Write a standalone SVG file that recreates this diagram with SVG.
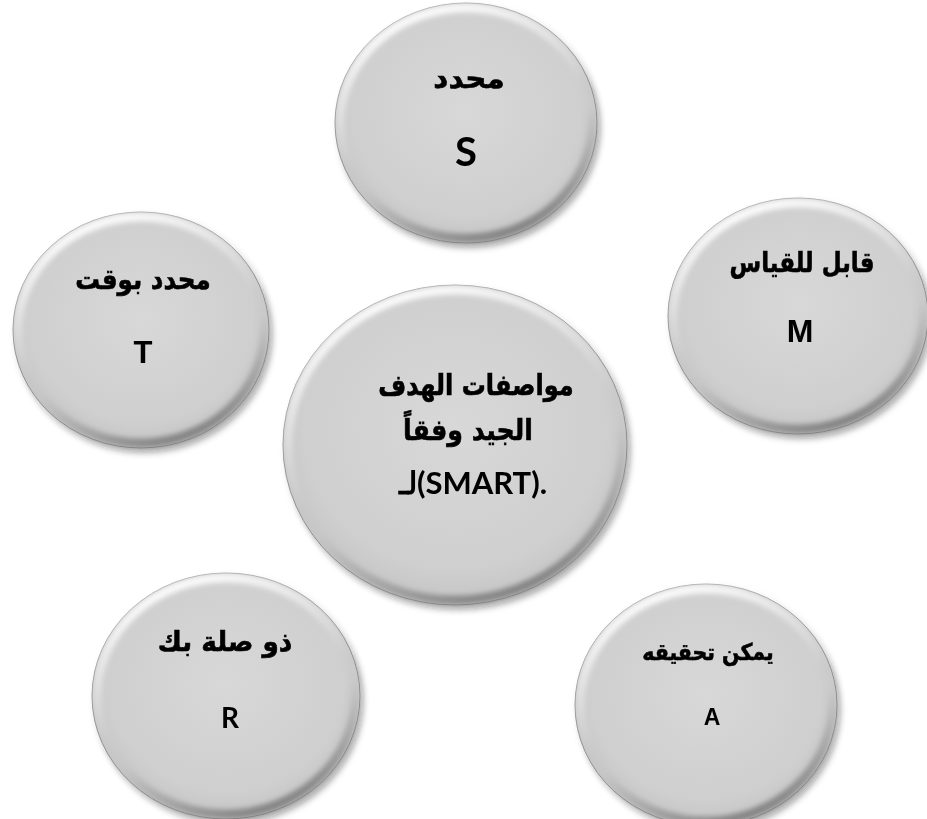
<svg xmlns="http://www.w3.org/2000/svg" width="927" height="819" viewBox="0 0 927 819">
<defs>
<radialGradient id="fillG" cx="0.5" cy="0.45" r="0.55">
<stop offset="0" stop-color="#d8d8d8"/>
<stop offset="0.8" stop-color="#cfcfcf"/>
<stop offset="1" stop-color="#c4c4c4"/>
</radialGradient>
<linearGradient id="rimG" x1="0.3" y1="0" x2="0.7" y2="1">
<stop offset="0" stop-color="#ffffff" stop-opacity="0.95"/>
<stop offset="0.45" stop-color="#ffffff" stop-opacity="0.1"/>
<stop offset="0.6" stop-color="#888888" stop-opacity="0.0"/>
<stop offset="1" stop-color="#6a6a6a" stop-opacity="0.8"/>
</linearGradient>
<filter id="blur" x="-10%" y="-10%" width="120%" height="120%">
<feGaussianBlur stdDeviation="2.5"/>
</filter>
<filter id="shadow" x="-10%" y="-10%" width="125%" height="125%">
<feGaussianBlur in="SourceAlpha" stdDeviation="3"/>
<feOffset dx="3" dy="4" result="b"/>
<feComponentTransfer><feFuncA type="linear" slope="0.35"/></feComponentTransfer>
<feMerge><feMergeNode/><feMergeNode in="SourceGraphic"/></feMerge>
</filter>
</defs>
<style>
.base{fill:url(#fillG);stroke:#8f8f8f;stroke-width:1}
.rim{fill:none;stroke:url(#rimG);stroke-width:9;filter:url(#blur)}
.ar{font-family:"DejaVu Sans","Liberation Sans",sans-serif;font-weight:bold;fill:#000;stroke:#000;stroke-width:0.6;text-anchor:middle}
.la{font-family:"Liberation Sans",Arial,sans-serif;font-weight:bold;fill:#000;text-anchor:middle}
.ca{font-family:Lato,"Open Sans",sans-serif;font-weight:bold;fill:#000;text-anchor:middle}
</style>
<rect width="927" height="819" fill="#ffffff"/>
<g id="connectors"></g>

<g id="node-S" filter="url(#shadow)">
<ellipse class="base" cx="466" cy="123" rx="131" ry="120"/>
<ellipse class="rim" cx="466" cy="123" rx="126" ry="115"/>
<text class="ar" transform="translate(469,88) scale(1.05,1)" font-size="28" direction="rtl">محدد</text>
<text class="ca" x="466" y="166" font-size="40">S</text>
</g>

<g id="node-M" filter="url(#shadow)">
<ellipse class="base" cx="798" cy="316" rx="130" ry="118"/>
<ellipse class="rim" cx="798" cy="316" rx="125" ry="113"/>
<text class="ar" transform="translate(802,272) scale(0.82,1)" font-size="28" direction="rtl">قابل للقياس</text>
<text class="la" x="800" y="342" font-size="32">M</text>
</g>

<g id="node-T" filter="url(#shadow)">
<ellipse class="base" cx="141" cy="330" rx="128" ry="118"/>
<ellipse class="rim" cx="141" cy="330" rx="123" ry="113"/>
<text class="ar" transform="translate(143,289) scale(0.88,1)" font-size="28" direction="rtl">محدد بوقت</text>
<text class="la" x="143" y="363" font-size="31">T</text>
</g>

<g id="node-center" filter="url(#shadow)">
<ellipse class="base" cx="455" cy="445" rx="172" ry="160"/>
<ellipse class="rim" cx="455" cy="445" rx="167" ry="155"/>
<text class="ar" transform="translate(476,395) scale(0.83,1)" font-size="29" direction="rtl">مواصفات الهدف</text>
<text class="ar" transform="translate(468,440) scale(0.87,1)" font-size="29" direction="rtl">الجيد وفقاً</text>
<text class="ca" x="473" y="494" font-size="31">لـ(SMART).</text>
</g>

<g id="node-R" filter="url(#shadow)">
<ellipse class="base" cx="226" cy="696" rx="134" ry="123"/>
<ellipse class="rim" cx="226" cy="696" rx="129" ry="118"/>
<text class="ar" transform="translate(225,651) scale(0.94,1)" font-size="28" direction="rtl">ذو صلة بك</text>
<text class="ca" x="230" y="728" font-size="28">R</text>
</g>

<g id="node-A" filter="url(#shadow)">
<ellipse class="base" cx="706" cy="705" rx="131" ry="121"/>
<ellipse class="rim" cx="706" cy="705" rx="126" ry="116"/>
<text class="ar" transform="translate(708,660) scale(0.89,1)" font-size="23" direction="rtl">يمكن تحقيقه</text>
<text class="la" x="712" y="725" font-size="23">A</text>
</g>
</svg>
